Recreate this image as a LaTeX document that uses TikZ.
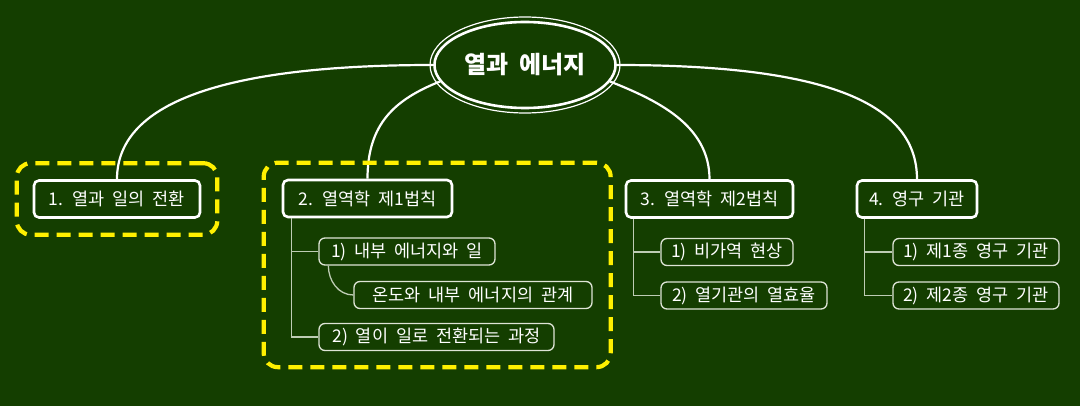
\documentclass[tikz,border=0pt]{standalone}
\usepackage{fontspec}
\setmainfont{Noto Sans CJK KR}[WordSpace=2]
\usetikzlibrary{shapes.geometric,fit}
\definecolor{BoardGreen}{RGB}{20,62,0}
\definecolor{BoardYellow}{RGB}{255,240,0}
\definecolor{SubLine}{RGB}{222,228,214}
\definecolor{BranchLine}{RGB}{190,204,180}

\begin{document}
\begin{tikzpicture}[x=1pt,y=-1pt,
  root/.style={ellipse,draw=white,line width=2.6pt,minimum width=178pt,minimum height=86pt,text=white,font=\fontsize{24}{28}\selectfont\bfseries},
  topic/.style={rectangle,draw=white,line width=2.6pt,rounded corners=5pt,minimum height=37pt,minimum width=#1pt,text=white,font=\fontsize{17.5}{20}\selectfont},
  sub/.style={rectangle,draw=SubLine,line width=1.3pt,rounded corners=6pt,minimum height=27pt,minimum width=#1pt,text=white,font=\fontsize{17.5}{19}\selectfont},
  link/.style={white,line width=2.2pt},
  branch/.style={BranchLine,line width=1.3pt},
  hilite/.style={rectangle,draw=BoardYellow,line width=4.2pt,rounded corners=14pt,dash pattern=on 14pt off 8pt,inner sep=16pt}]
\fill[BoardGreen] (0,0) rectangle (1080,406);
\useasboundingbox (0,0) rectangle (1080,406);
% root
\node[root](n0) at(525,65) {열과 에너지};
\draw[white,line width=1.2pt] (n0.center) ellipse [x radius=95pt,y radius=48pt];
% topics
\node[topic=166](n1) at(117,199) {1. 열과 일의 전환};
\node[topic=169](n2) at(367.5,198.5) {2. 열역학 제1법칙};
\node[topic=167](n3) at(709.5,199) {3. 열역학 제2법칙};
\node[topic=120](n4) at(917,199) {4. 영구 기관};
% sub topics
\node[sub=176](n21) at(407,251.5) {1) 내부 에너지와 일};
\node[sub=238](n211) at(473,295) {온도와 내부 에너지의 관계};
\node[sub=235](n22) at(436.5,337) {2) 열이 일로 전환되는 과정};
\node[sub=132](n31) at(727,252) {1) 비가역 현상};
\node[sub=166](n32) at(744,295.5) {2) 열기관의 열효율};
\node[sub=166](n41) at(976,252) {1) 제1종 영구 기관};
\node[sub=166](n42) at(976,295.5) {2) 제2종 영구 기관};
\draw[link] (n0.west) .. controls +(-200,0) and +(0,-80) .. (n1.north);
\draw[link] (n0.191) .. controls +(-45,18) and +(0,-55) .. (n2.north);
\draw[link] (n0.-11) .. controls +(45,18) and +(0,-55) .. (n3.north);
\draw[link] (n0.east) .. controls +(200,0) and +(0,-80) .. (n4.north);
\draw[branch] ([xshift=10pt]n2.south west) |- (n21.west);
\draw[branch] ([xshift=10pt]n2.south west) |- (n22.west);
\draw[branch] ([xshift=10pt]n21.south west) to[out=-90,in=180] (n211.west);
\draw[branch] ([xshift=9pt]n3.south west) |- (n31.west);
\draw[branch] ([xshift=9pt]n3.south west) |- (n32.west);
\draw[branch] ([xshift=9pt]n4.south west) |- (n41.west);
\draw[branch] ([xshift=9pt]n4.south west) |- (n42.west);
% highlights
\node[hilite,fit=(n1)](h1) {};
\node[hilite,fit=(n2)(n211)(n22),inner xsep=18pt](h2) {};
\end{tikzpicture}
\end{document}
